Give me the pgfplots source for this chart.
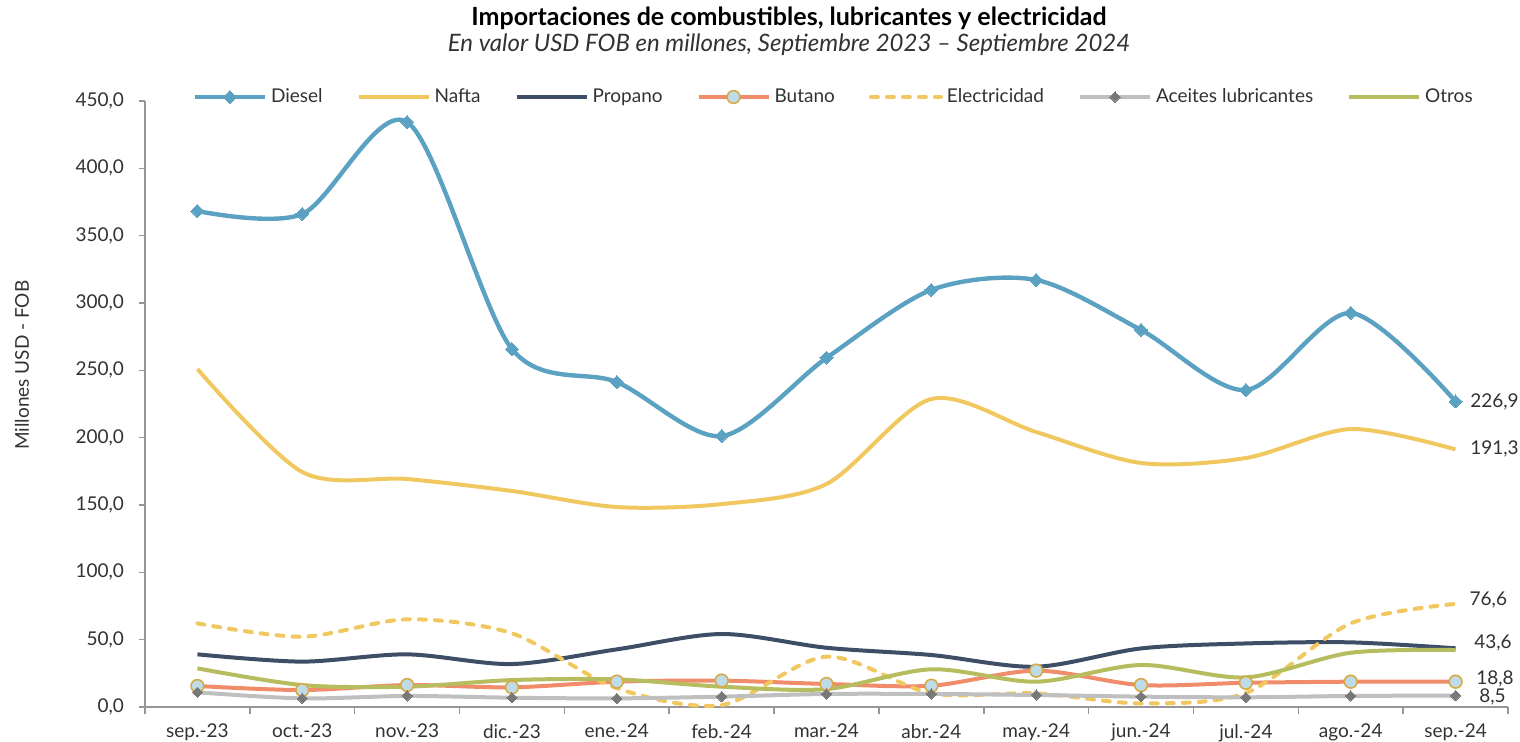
\documentclass[border=0pt]{standalone}
\usepackage{pgfplots}
\pgfplotsset{compat=1.18}
\usepackage{fontspec}
\setmainfont{Lato}
\definecolor{cDiesel}{RGB}{91,161,194}
\definecolor{cNafta}{RGB}{240,200,95}
\definecolor{cPropano}{RGB}{62,78,102}
\definecolor{cButano}{RGB}{240,140,105}
\definecolor{cButFill}{RGB}{190,220,232}
\definecolor{cButDraw}{RGB}{215,170,70}
\definecolor{cAceites}{RGB}{191,191,191}
\definecolor{cAceMark}{RGB}{120,120,120}
\definecolor{cOtros}{RGB}{183,188,95}
\definecolor{cAxis}{RGB}{150,150,150}
\definecolor{cText}{RGB}{50,50,50}
\begin{document}
\begin{tikzpicture}
\useasboundingbox (-72.5pt,-17pt) rectangle (687.5pt,353.5pt);
\begin{axis}[
  scale only axis,
  width=681.5pt, height=303pt,
  at={(0,0)}, anchor=south west,
  xmin=-0.5, xmax=12.5, ymin=0, ymax=450,
  clip=false,
  axis x line=bottom, axis y line=left,
  axis line style={draw=cAxis, line width=0.8pt, -},
  xtick={0,...,12},
  xticklabels={sep.-23,oct.-23,nov.-23,dic.-23,ene.-24,feb.-24,mar.-24,abr.-24,may.-24,jun.-24,jul.-24,ago.-24,sep.-24},
  major x tick style={draw=none},
  minor xtick={-0.5,0.5,...,12.5},
  minor x tick style={draw=cAxis, line width=0.8pt},
  minor tick length=3.5pt,
  ytick={0,50,...,450},
  major y tick style={draw=cAxis, line width=0.8pt},
  major tick length=3pt,
  tick align=outside,
  /pgf/number format/.cd, fixed, fixed zerofill, precision=1, use comma, 1000 sep={}, assume math mode=true,
  /pgfplots/.cd,
  ticklabel style={font=\fontsize{9.5}{10}\selectfont, text=cText},
  yticklabel style={xshift=-4pt},
  xticklabel style={yshift=-2pt},
  ylabel={Millones USD - FOB},
  ylabel style={at={(axis description cs:-0.0902,0.564)}, anchor=center, rotate=0, font=\fontsize{9.5}{10}\selectfont, text=cText},
  legend columns=7,
  legend style={draw=none, fill=none, at={(axis description cs:0.506,1.0066)}, anchor=center,
     font=\fontsize{9.5}{10}\selectfont, text=cText,
     /tikz/every even column/.append style={column sep=15pt}},
  legend image code/.code={\draw[mark repeat=2,mark phase=2,#1] plot coordinates {(0pt,0pt) (17.5pt,0pt) (35pt,0pt)};},
  every axis plot/.append style={smooth, tension=0.5, line width=2pt},
]
\addplot[color=cDiesel, line width=2.2pt, mark=square*, mark size=2.3pt, mark options={rotate=45, fill=cDiesel, draw=cDiesel, line width=0pt}]
coordinates {(0,368.3)(1,366.1)(2,434.4)(3,265.8)(4,241.3)(5,201.2)(6,259.2)(7,309.7)(8,317.1)(9,280.0)(10,235.4)(11,292.6)(12,226.9)};
\addlegendentry{Diesel}
\addplot[color=cNafta, mark=none]
coordinates {(0,251.0)(1,174.5)(2,169.3)(3,160.4)(4,148.5)(5,150.7)(6,165.6)(7,228.7)(8,204.2)(9,181.2)(10,184.9)(11,206.4)(12,191.3)};
\addlegendentry{Nafta}
\addplot[color=cPropano, mark=none]
coordinates {(0,39.1)(1,33.7)(2,39.1)(3,31.9)(4,42.8)(5,54.2)(6,44.0)(7,38.6)(8,29.9)(9,43.5)(10,47.2)(11,48.0)(12,43.6)};
\addlegendentry{Propano}
\addplot[color=cButano, mark=*, mark size=3.2pt, mark options={fill=cButFill, draw=cButDraw, line width=0.8pt}]
coordinates {(0,15.6)(1,12.6)(2,16.3)(3,14.6)(4,18.8)(5,19.6)(6,17.1)(7,15.8)(8,27.0)(9,16.3)(10,18.0)(11,18.8)(12,18.8)};
\addlegendentry{Butano}
\addplot[color=cNafta, mark=none, line cap=round, dash pattern=on 3.5pt off 4.5pt]
coordinates {(0,62.1)(1,52.2)(2,65.1)(3,54.7)(4,14.0)(5,1.5)(6,37.4)(7,10.1)(8,10.1)(9,2.7)(10,10.4)(11,62.1)(12,76.6)};
\addlegendentry{Electricidad}
\addplot[color=cAceites, mark=square*, mark size=1.8pt, mark options={rotate=45, fill=cAceMark, draw=cAceMark, line width=0pt}]
coordinates {(0,10.9)(1,6.4)(2,8.2)(3,6.9)(4,6.4)(5,7.7)(6,9.7)(7,9.7)(8,8.9)(9,7.7)(10,7.2)(11,8.2)(12,8.5)};
\addlegendentry{Aceites lubricantes}
\addplot[color=cOtros, mark=none]
coordinates {(0,28.7)(1,16.3)(2,15.1)(3,20.0)(4,20.5)(5,15.1)(6,13.3)(7,28.0)(8,18.8)(9,31.2)(10,22.0)(11,40.3)(12,42.3)};
\addlegendentry{Otros}
% data labels
\pgfplotsset{lbl/.style={forget plot, draw=none, mark=none, nodes near coords style={anchor=west, font=\fontsize{9.5}{10}\selectfont, text=cText}}}
\addplot[lbl, nodes near coords={226,9}, nodes near coords style={xshift=3pt}] coordinates {(12,226.9)};
\addplot[lbl, nodes near coords={191,3}, nodes near coords style={xshift=3pt}] coordinates {(12,191.3)};
\addplot[lbl, nodes near coords={76,6}, nodes near coords style={yshift=2pt, xshift=2.7pt}] coordinates {(12,76.6)};
\addplot[lbl, nodes near coords={43,6}, nodes near coords style={yshift=2.5pt, xshift=5pt}] coordinates {(12,43.6)};
\addplot[lbl, nodes near coords={18,8}, nodes near coords style={yshift=1.3pt, xshift=6pt}] coordinates {(12,18.8)};
\addplot[lbl, nodes near coords={8,5}, nodes near coords style={yshift=-0.7pt, xshift=7.5pt}] coordinates {(12,8.5)};
\end{axis}
\node[font=\bfseries\fontsize{12.5}{13}\selectfont, text=black] at (322pt,344.5pt) {Importaciones de combustibles, lubricantes y electricidad};
\node[font=\itshape\fontsize{12}{13}\selectfont, text=cText] at (322pt,331pt) {En valor USD FOB en millones, Septiembre 2023 – Septiembre 2024};
\end{tikzpicture}
\end{document}
